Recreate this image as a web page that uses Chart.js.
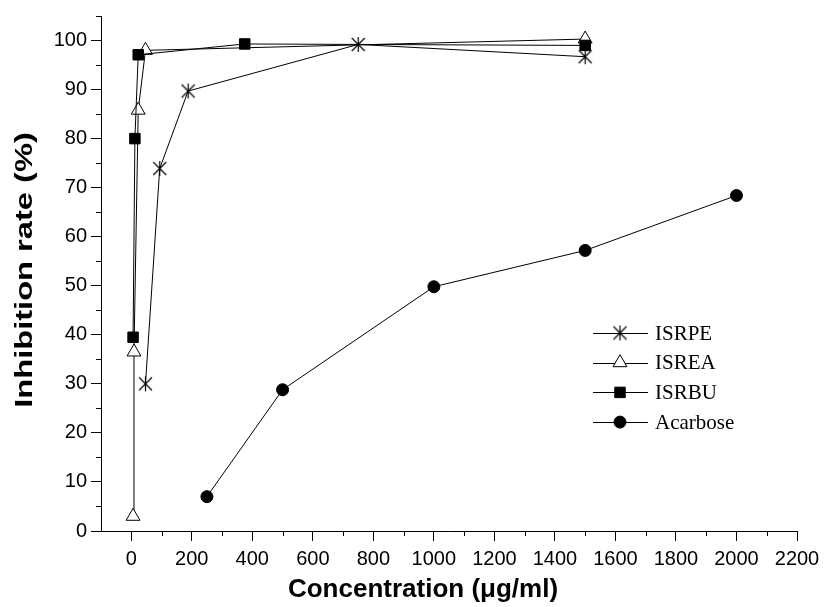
<!DOCTYPE html>
<html><head><meta charset="utf-8">
<script src="https://cdn.jsdelivr.net/npm/chart.js@4/dist/chart.umd.min.js"></script>
<style>html,body{margin:0;padding:0;background:#fff}#wrap{width:828px;height:607px}</style>
</head><body><div id="wrap"><canvas id="c" width="828" height="607"></canvas></div>
<script>
// ---- data ----
const seriesNames = ['ISRPE', 'ISREA', 'ISRBU', 'Acarbose'];
const isrpeX = [47, 94, 188, 750, 1500];
const isrpeY = [30.0, 73.9, 89.7, 99.2, 96.7];
const isreaX = [6, 9, 23, 47, 1500];
const isreaY = [3.0, 36.5, 85.8, 98.0, 100.3];
const isrbuX = [6, 12, 23, 375, 1500];
const isrbuY = [39.5, 80.0, 97.1, 99.3, 99.0];
const acarboseX = [250, 500, 1000, 1500, 2000];
const acarboseY = [7.0, 28.8, 49.8, 57.2, 68.4];
const xTicks = [0, 200, 400, 600, 800, 1000, 1200, 1400, 1600, 1800, 2000, 2200];
const yTicks = [0, 10, 20, 30, 40, 50, 60, 70, 80, 90, 100];
const xTitle = 'Concentration (μg/ml)';
const yTitle = 'Inhibition rate (%)';

function pts(xs, ys) { return xs.map((x, i) => ({ x: x, y: ys[i] })); }

function makeAsterisk() {
  const s = 17, c = document.createElement('canvas');
  c.width = s; c.height = s;
  const g = c.getContext('2d');
  g.strokeStyle = '#000'; g.lineWidth = 1.2;
  const m = s / 2;
  g.beginPath();
  g.moveTo(m, m - 7.5); g.lineTo(m, m + 7.5);
  g.moveTo(m - 6.5, m - 6.5); g.lineTo(m + 6.5, m + 6.5);
  g.moveTo(m + 6.5, m - 6.5); g.lineTo(m - 6.5, m + 6.5);
  g.stroke();
  return c;
}
const asterisk = makeAsterisk();

const common = { borderColor: '#000', borderWidth: 1, pointBorderColor: '#000', pointBorderWidth: 1, showLine: true, tension: 0 };

const datasets = [
  Object.assign({}, common, { label: seriesNames[0], data: pts(isrpeX, isrpeY), pointStyle: asterisk, pointRadius: 8, order: 0 }),
  Object.assign({}, common, { label: seriesNames[1], data: pts(isreaX, isreaY), pointStyle: 'triangle', pointRadius: 8, pointBackgroundColor: '#fff', order: 2 }),
  Object.assign({}, common, { label: seriesNames[2], data: pts(isrbuX, isrbuY), pointStyle: 'rect', pointRadius: 7.4, pointBackgroundColor: '#000', order: 1 }),
  Object.assign({}, common, { label: seriesNames[3], data: pts(acarboseX, acarboseY), pointStyle: 'circle', pointRadius: 6, pointBackgroundColor: '#000', order: 3 })
];

const minorTicksAndTitles = {
  id: 'minorTicksAndTitles',
  afterDraw(chart) {
    const ctx = chart.ctx, xs = chart.scales.x, ys = chart.scales.y, a = chart.chartArea;
    ctx.save();
    ctx.strokeStyle = '#000'; ctx.lineWidth = 1;
    ctx.beginPath();
    for (let i = 0; i < xTicks.length - 1; i++) {
      const v = (xTicks[i] + xTicks[i + 1]) / 2;
      const px = Math.round(xs.getPixelForValue(v)) + 0.5;
      ctx.moveTo(px, a.bottom); ctx.lineTo(px, a.bottom + 5);
    }
    const step = yTicks[1] - yTicks[0];
    for (let i = 0; i < yTicks.length; i++) {
      const v = yTicks[i] + step / 2;
      if (v > ys.max) break;
      const py = Math.round(ys.getPixelForValue(v)) + 0.5;
      ctx.moveTo(a.left, py); ctx.lineTo(a.left - 5, py);
    }
    ctx.stroke();
    // axis titles
    ctx.fillStyle = '#000';
    ctx.textAlign = 'center'; ctx.textBaseline = 'middle';
    ctx.font = 'bold 26px "Liberation Sans", Arial';
    ctx.fillText(xTitle, a.left + 322, a.bottom + 59);
    ctx.save();
    ctx.translate(a.left - 76, a.top + 254);
    ctx.rotate(-Math.PI / 2);
    ctx.scale(1.36, 1);
    ctx.font = 'bold 24px "Liberation Sans", Arial';
    ctx.fillText(yTitle, 0, 0);
    ctx.restore();
    ctx.restore();
  }
};

const insideLegend = {
  id: 'insideLegend',
  afterDraw(chart) {
    const ctx = chart.ctx, a = chart.chartArea;
    const x0 = a.left + 492, x1 = a.left + 547, xm = a.left + 519, xt = a.left + 554;
    const y0 = a.top + 317, dy = 29.7;
    ctx.save();
    chart.data.datasets.forEach((ds, i) => {
      const y = y0 + i * dy;
      ctx.strokeStyle = '#000'; ctx.lineWidth = 1;
      ctx.beginPath(); ctx.moveTo(x0, Math.round(y) + 0.5); ctx.lineTo(x1, Math.round(y) + 0.5); ctx.stroke();
      ctx.fillStyle = ds.pointBackgroundColor || '#000';
      ctx.strokeStyle = '#000';
      Chart.helpers.drawPoint(ctx, { pointStyle: ds.pointStyle, radius: ds.pointRadius, rotation: 0, borderWidth: 1 }, xm, y);
      ctx.fillStyle = '#000';
      ctx.font = '21px "Liberation Serif"';
      ctx.textBaseline = 'middle'; ctx.textAlign = 'left';
      ctx.fillText(ds.label, xt, y + 1);
    });
    ctx.restore();
  }
};

new Chart(document.getElementById('c'), {
  type: 'scatter',
  data: { datasets: datasets },
  plugins: [minorTicksAndTitles, insideLegend],
  options: {
    responsive: false, animation: false, devicePixelRatio: 1,
    layout: { padding: { top: 15, right: 31, left: 0, bottom: 0 } },
    plugins: { legend: { display: false }, tooltip: { enabled: false } },
    scales: {
      x: {
        type: 'linear', min: -100, max: 2200,
        afterBuildTicks: s => { s.ticks = xTicks.map(v => ({ value: v })); },
        afterFit: s => { s.height = 76; },
        grid: { drawOnChartArea: false, drawTicks: true, tickLength: 10, tickColor: '#000', tickWidth: 1 },
        border: { display: true, color: '#000', width: 1 },
        ticks: { color: '#000', font: { family: '"Liberation Sans", Arial', size: 20 }, padding: 6, maxRotation: 0, autoSkip: false, callback: v => String(v) },
        title: { display: false }
      },
      y: {
        type: 'linear', min: 0, max: 105,
        afterBuildTicks: s => { s.ticks = yTicks.map(v => ({ value: v })); },
        afterFit: s => { s.width = 101; },
        grid: { drawOnChartArea: false, drawTicks: true, tickLength: 10, tickColor: '#000', tickWidth: 1 },
        border: { display: true, color: '#000', width: 1 },
        ticks: { color: '#000', font: { family: '"Liberation Sans", Arial', size: 20 }, padding: 4, callback: v => String(v) },
        title: { display: false }
      }
    }
  }
});
</script></body></html>
